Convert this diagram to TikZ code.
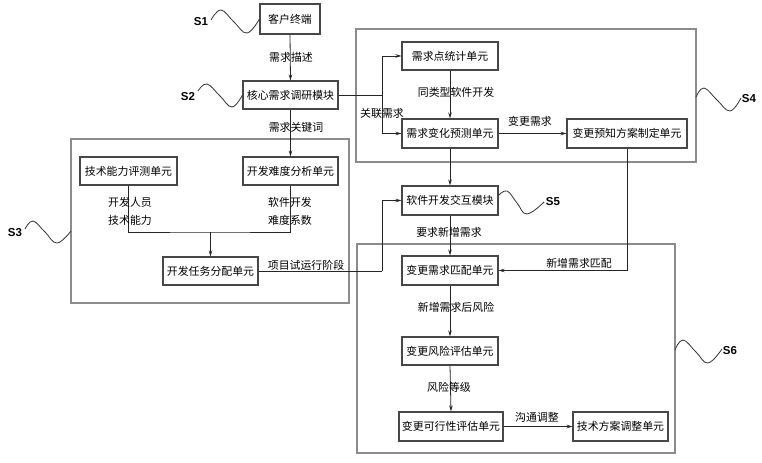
\documentclass[tikz,border=0pt]{standalone}
\usepackage{fontspec}
\setmainfont{Noto Sans CJK SC}
\newfontfamily\slabfont{Liberation Sans}
\usetikzlibrary{arrows.meta}
\begin{document}
\begin{tikzpicture}[x=1bp,y=-1bp,
  unit/.style={draw=black!72,line width=1.1bp,fill=white,inner sep=0pt,font=\fontsize{10.9bp}{12bp}\selectfont},
  grp/.style={draw=black!45,line width=1.6bp,inner sep=0pt},
  lbl/.style={inner sep=0pt,font=\fontsize{10.9bp}{12bp}\selectfont},
  sl/.style={inner sep=0pt,font=\slabfont\bfseries\fontsize{11.5bp}{13bp}\selectfont},
  wave/.style={draw=black!80,line width=0.8bp},
  conn/.style={draw=black!85,line width=0.8bp},
  arr/.style={conn,-{Stealth[length=6bp,width=3.5bp]}}]
\useasboundingbox (0,0) rectangle (762,463);
\fill[white] (0,0) rectangle (762,463);

% group boxes
\node[grp,minimum width=340bp,minimum height=133bp] (g4) at (526,95.5) {};
\node[grp,minimum width=278bp,minimum height=164bp] (g3) at (210,221) {};
\node[grp,minimum width=318bp,minimum height=209bp] (g6) at (516,348.5) {};

% units
\node[unit,minimum width=60bp,minimum height=30bp] (kh) at (290,19) {客户终端};
\node[unit,minimum width=95bp,minimum height=28bp] (hx) at (290.5,95) {核心需求调研模块};
\node[unit,minimum width=96bp,minimum height=28bp] (tj) at (450,56) {需求点统计单元};
\node[unit,minimum width=96bp,minimum height=29bp] (yc) at (450,133.5) {需求变化预测单元};
\node[unit,minimum width=120bp,minimum height=29bp] (bg) at (627,133.5) {变更预知方案制定单元};
\node[unit,minimum width=97bp,minimum height=28bp] (js) at (128.5,171) {技术能力评测单元};
\node[unit,minimum width=95bp,minimum height=28bp] (fn) at (290.5,171) {开发难度分析单元};
\node[unit,minimum width=95bp,minimum height=28bp] (rw) at (210.5,271) {开发任务分配单元};
\node[unit,minimum width=96bp,minimum height=29bp] (rj) at (450,200.5) {软件开发交互模块};
\node[unit,minimum width=96bp,minimum height=29bp] (pp) at (450,270.5) {变更需求匹配单元};
\node[unit,minimum width=96bp,minimum height=28bp] (fx) at (450,351) {变更风险评估单元};
\node[unit,minimum width=104bp,minimum height=29bp] (kx) at (451,426.5) {变更可行性评估单元};
\node[unit,minimum width=95bp,minimum height=29bp] (ts) at (620.5,426.5) {技术方案调整单元};

% S labels and waves
\node[sl] (s1) at (201,22) {S1};
\node[sl] (s2) at (188,97) {S2};
\node[sl] (s3) at (15,233) {S3};
\node[sl] (s4) at (749,99) {S4};
\node[sl] (s5) at (553,202) {S5};
\node[sl] (s6) at (730,351) {S6};
\draw[wave] plot[smooth,tension=0.7] coordinates {(211,20) (221,10) (234,22) (247,33) (kh.west)};
\draw[wave] plot[smooth,tension=0.7] coordinates {(198,91) (207,84) (220,96) (232,107) (hx.west)};
\draw[wave] plot[smooth,tension=0.7] coordinates {(25,229) (33,221) (45,232) (57,243) (71,231)};
\draw[wave] plot[smooth,tension=0.7] coordinates {(696,97) (704,88) (717,100) (730,111) (741,98)};
\draw[wave] plot[smooth,tension=0.7] coordinates {(498,196) (507,191) (517,203) (527,214) (544,202)};
\draw[wave] plot[smooth,tension=0.7] coordinates {(675,350) (683,340) (696,352) (708,363) (722,349)};

% connectors
\draw[arr] (kh.south) -- (hx.north);
\node[lbl] (l1) at (291,57) {需求描述};

\coordinate (br) at (382,95);
\draw[conn] (hx.east) -- (br);
\draw[arr] (br) |- (tj.west);
\draw[arr] (br) |- (yc.west);
\node[lbl] (l2) at (382,113) {关联需求};

\draw[arr] (hx.south) -- (fn.north);
\node[lbl] (l3) at (296,127) {需求关键词};

\draw[arr] (tj.south) -- (yc.north);
\node[lbl] (l4) at (456,92) {同类型软件开发};

\draw[arr] (yc.east) -- (bg.west);
\node[lbl] (l5) at (530,121) {变更需求};

\draw[arr] (yc.south) -- (rj.north);

\draw[arr] (bg.south) |- (pp.east);
\node[lbl] (l6) at (579,263) {新增需求匹配};

\coordinate (jm) at (210.5,232);
\draw[conn] (js.south) |- (jm) -| (fn.south);
\draw[arr] (jm) -- (rw.north);
\node[lbl] (l7) at (130,202) {开发人员};
\node[lbl] (l8) at (130,220) {技术能力};
\node[lbl] (l9) at (290,202) {软件开发};
\node[lbl] (l10) at (290,220) {难度系数};

\coordinate (rr) at (382,271);
\draw[conn] (rw.east) -- (rr);
\draw[arr] (rr) |- (rj.west);
\node[lbl] (l11) at (306,265) {项目试运行阶段};

\draw[arr] (rj.south) -- (pp.north);
\node[lbl] (l12) at (449,232) {要求新增需求};

\draw[arr] (pp.south) -- (fx.north);
\node[lbl] (l13) at (456,307) {新增需求后风险};

\draw[arr] (fx.south) -- (kx.north);
\node[lbl] (l14) at (449,387) {风险等级};

\draw[arr] (kx.east) -- (ts.west);
\node[lbl] (l15) at (537,417) {沟通调整};
\end{tikzpicture}
\end{document}
